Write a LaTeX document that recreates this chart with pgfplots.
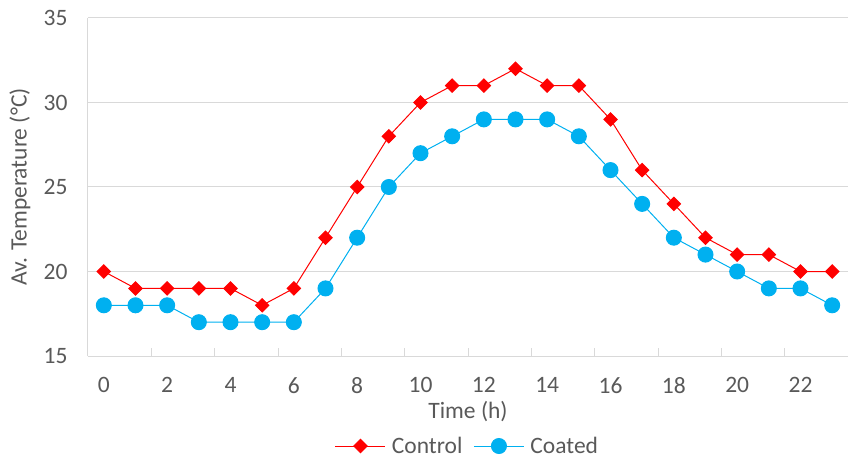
\documentclass[border=0pt]{standalone}
\usepackage{pgfplots}
\pgfplotsset{compat=1.18}
\usepackage{fontspec}
\setmainfont{Carlito}
\definecolor{txt}{HTML}{595959}
\definecolor{grd}{HTML}{D9D9D9}
\definecolor{ctrl}{HTML}{FF0000}
\definecolor{coat}{HTML}{00B0F0}
\newcommand{\chartfont}{\fontsize{23.5bp}{28bp}\selectfont}

\pgfplotstableread{
h control coated
0 20 18
1 19 18
2 19 18
3 19 17
4 19 17
5 18 17
6 19 17
7 22 19
8 25 22
9 28 25
10 30 27
11 31 28
12 31 29
13 32 29
14 31 29
15 31 28
16 29 26
17 26 24
18 24 22
19 22 21
20 21 20
21 21 19
22 20 19
23 20 18
}\temps

\begin{document}
\begin{tikzpicture}
\begin{axis}[
  scale only axis,
  width=760bp, height=338bp,
  xmin=-0.5, xmax=23.5,
  ymin=15, ymax=35,
  axis x line*=bottom, axis y line*=left,
  axis line style={draw=grd, line width=1bp, -},
  xtick={0,2,...,22},
  minor xtick={1.5,3.5,...,21.5},
  ytick={15,20,...,35},
  ymajorgrids,
  major grid style={draw=grd, line width=1bp},
  major tick length=0pt,
  minor tick length=8bp,
  tick align=inside,
  minor tick style={draw=grd, line width=1bp},
  tick label style={text=txt, font=\chartfont},
  /pgf/number format/assume math mode=true,
  xticklabel style={yshift=-18bp},
  yticklabel style={xshift=-17bp},
  xlabel={Time (h)},
  ylabel={Av. Temperature (°C)},
  every axis x label/.style={at={(axis description cs:0.5,-0.1657)}, anchor=center, text=txt, font=\chartfont},
  every axis y label/.style={at={(axis description cs:-0.0895,0.5)}, anchor=center, rotate=90, text=txt, font=\chartfont},
  legend columns=2,
  legend style={at={(axis description cs:0.5,-0.2663)}, anchor=center, draw=none, fill=none,
    font=\chartfont, text=txt,
    nodes={inner sep=3bp},
    /tikz/every odd column/.append style={column sep=3bp},
    /tikz/every even column/.append style={column sep=8bp}},
  legend image code/.code={\draw[mark repeat=2,mark phase=2,#1] plot coordinates {(0bp,0bp) (25bp,0bp) (50bp,0bp)};},
  clip=false,
]
\addplot[color=ctrl, line width=1bp, mark=square*, mark size=4.7bp,
  mark options={rotate=45, fill=ctrl, draw=ctrl}] table[x=h, y=control] {\temps};
\addlegendentry{Control}
\addplot[color=coat, line width=1bp, mark=*, mark size=7.5bp,
  mark options={fill=coat, draw=coat}] table[x=h, y=coated] {\temps};
\addlegendentry{Coated}
\coordinate (sw) at (axis description cs:0,0);
\coordinate (ne) at (axis description cs:1,1);
\end{axis}
\pgfresetboundingbox
\path[use as bounding box] ([xshift=-88bp,yshift=-106bp]sw) rectangle ([yshift=18bp]ne);
\end{tikzpicture}
\end{document}
